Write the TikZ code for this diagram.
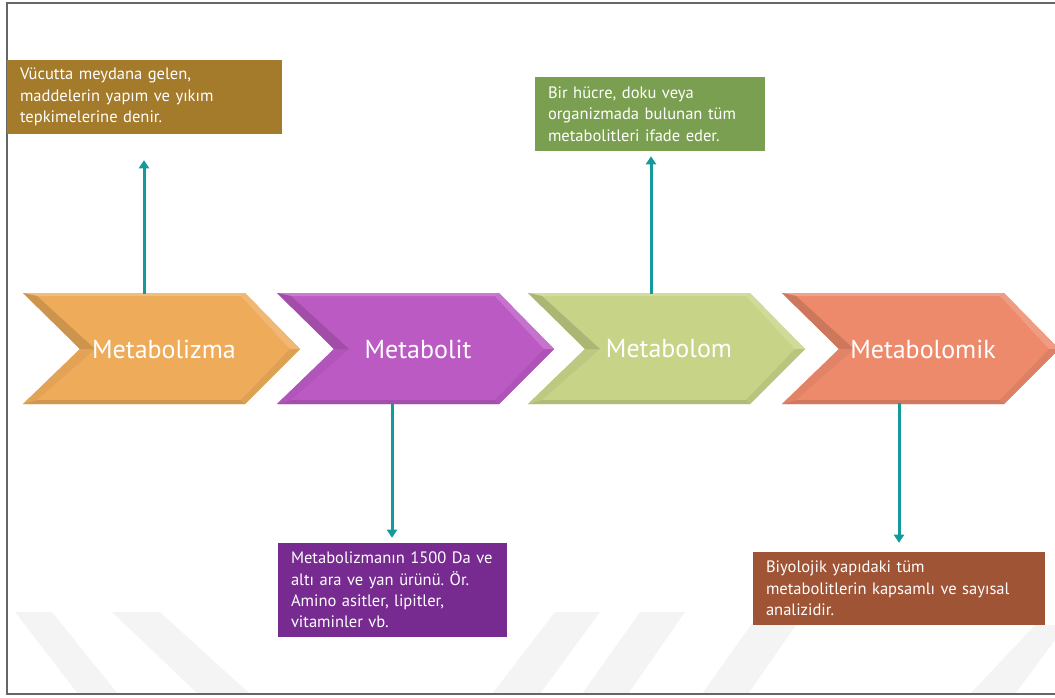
\documentclass[tikz,border=0pt]{standalone}
\usepackage{fontspec}
\setmainfont{PT Sans}
\usetikzlibrary{arrows.meta}
\frenchspacing
\definecolor{boxA}{HTML}{A47A2B}
\definecolor{boxB}{HTML}{772A90}
\definecolor{boxC}{HTML}{7A9F50}
\definecolor{boxD}{HTML}{A05436}
\definecolor{chA}{HTML}{EEAC5B}
\definecolor{chB}{HTML}{BC5AC4}
\definecolor{chC}{HTML}{C7D487}
\definecolor{chD}{HTML}{EE8A6C}
\definecolor{teal}{HTML}{149A9A}
\definecolor{framegray}{HTML}{666666}
\definecolor{wmark}{HTML}{F4F4F4}
\newcommand{\mychev}[4]{%
  \fill[#2] (#1,293) -- (#1+222,293) -- (#1+277,349) -- (#1+222,404) -- (#1,404) -- (#1+57,349) -- cycle;
  \fill[#2!80!white] (#1,293) -- (#1+222,293) -- (#1+218,296) -- (#1+14,296) -- cycle;
  \fill[#2!85!white] (#1+222,293) -- (#1+277,349) -- (#1+267,349) -- (#1+218,296) -- cycle;
  \fill[#2!93!black] (#1+277,349) -- (#1+222,404) -- (#1+218,400) -- (#1+267,349) -- cycle;
  \fill[#2!88!black] (#1+222,404) -- (#1,404) -- (#1+14,400) -- (#1+218,400) -- cycle;
  \fill[#2!95!black] (#1,404) -- (#1+57,349) -- (#1+72,349) -- (#1+14,400) -- cycle;
  \fill[#2!86!black] (#1+57,349) -- (#1,293) -- (#1+14,296) -- (#1+72,349) -- cycle;
  \node[chevlabel] (#3) at (#1+141,349) {#4};
}
\tikzset{
  chevlabel/.style={text=white, font=\fontsize{19.5}{22}\selectfont, inner sep=0pt},
  infobox/.style={fill=#1, text=white, align=left, inner xsep=9.75pt, inner ysep=0pt,
    font=\fontsize{12.4}{16}\selectfont},
  conn/.style={draw=teal, line width=2.25pt, -{Triangle[length=6pt,width=7.5pt]}},
  framestyle/.style={draw=framegray, line width=1.5pt},
}
\begin{document}
\begin{tikzpicture}[x=0.75pt, y=-0.75pt]
\useasboundingbox (0,0) rectangle (1055,697);
% watermark
\fill[wmark] (15,612) -- (52,612) -- (118,694) -- (78,694) -- cycle;
\fill[wmark] (112,612) -- (160,612) -- (250,694) -- (198,694) -- cycle;
\fill[wmark] (555,612) -- (600,612) -- (540,694) -- (492,694) -- cycle;
\fill[wmark] (640,612) -- (685,612) -- (628,694) -- (582,694) -- cycle;
\fill[wmark] (760,612) -- (805,612) -- (748,694) -- (702,694) -- cycle;
\fill[wmark] (1035,625) -- (1055,625) -- (1055,640) -- (1015,694) -- (970,694) -- cycle;
% frame
\draw[framestyle] (1055,3) -- (7,3) -- (7,694) -- (1055,694);
% chevrons
\mychev{23}{chA}{c1}{Metabolizma}
\mychev{277}{chB}{c2}{Metabolit}
\mychev{528}{chC}{c3}{Metabolom}
\mychev{782}{chD}{c4}{Metabolomik}
% boxes
\node[infobox=boxA, text width=186.75pt, minimum height=55.5pt] (b1) at (144.5,97)
  {Vücutta meydana gelen,\\maddelerin yapım ve yıkım\\tepkimelerine denir.};
\node[infobox=boxC, text width=153pt, minimum height=55.5pt] (b2) at (650,114)
  {Bir hücre, doku veya\\organizmada bulunan tüm\\metabolitleri ifade eder.};
\node[infobox=boxB, text width=152.25pt, minimum height=70.5pt] (b3) at (392.5,590)
  {Metabolizmanın 1500 Da ve\\altı ara ve yan ürünü. Ör.\\Amino asitler, lipitler,\\vitaminler vb.};
\node[infobox=boxD, text width=199.5pt, minimum height=54.75pt] (b4) at (899,588.5)
  {Biyolojik yapıdaki tüm\\metabolitlerin kapsamlı ve sayısal\\analizidir.};
% connectors
\coordinate (s1) at (144,294);
\coordinate (s2) at (392,403);
\coordinate (s3) at (651,294);
\coordinate (s4) at (899,403);
\draw[conn, shorten >=19.5pt] (s1) -- (s1 |- b1.south);
\draw[conn, shorten >=3.75pt] (s2) -- (s2 |- b3.north);
\draw[conn, shorten >=3.75pt] (s3) -- (s3 |- b2.south);
\draw[conn, shorten >=6.75pt] (s4) -- (s4 |- b4.north);
\end{tikzpicture}
\end{document}
